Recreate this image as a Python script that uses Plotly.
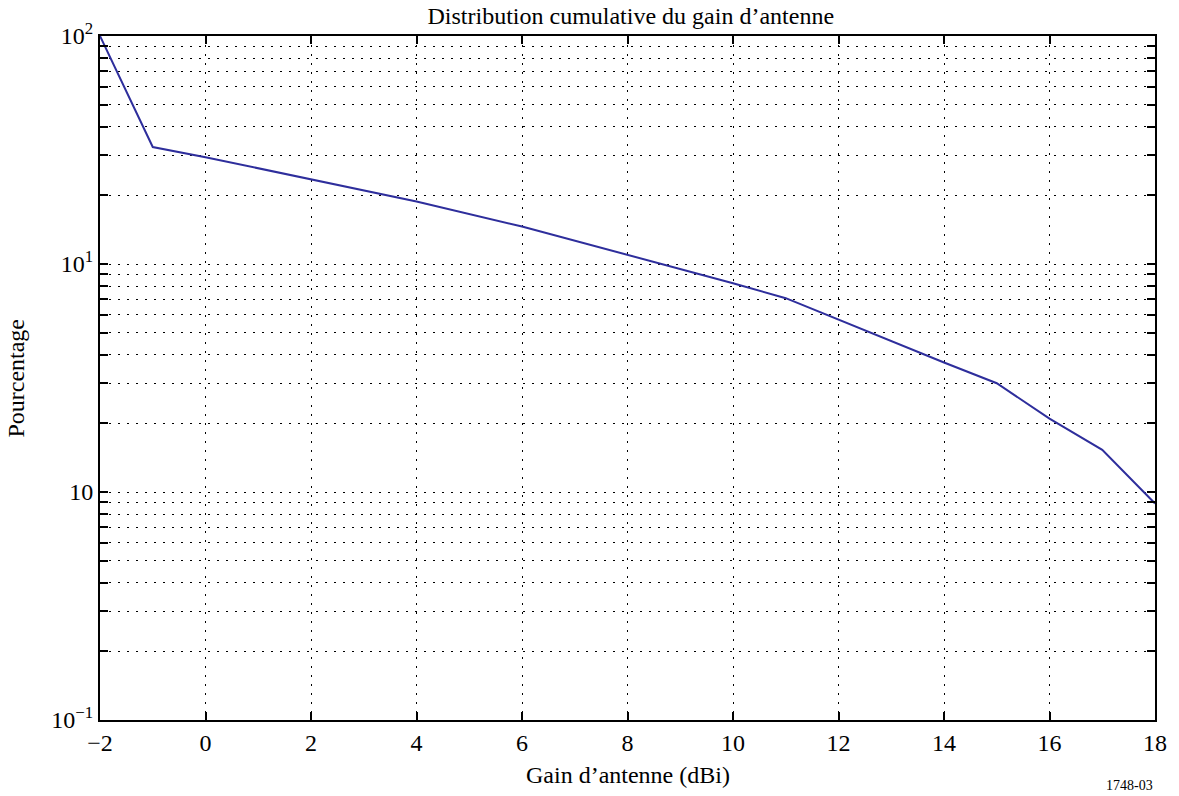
import plotly.graph_objects as go

gain_dbi = [-2, -1, 0, 2, 4, 6, 8, 10, 11, 12, 14, 15, 16, 17, 18]
percentage = [100, 32.6, 29.4, 23.6, 18.8, 14.6, 11.0, 8.24, 7.08, 5.69, 3.7, 3.0, 2.1, 1.53, 0.89]

x_ticks = [-2, 0, 2, 4, 6, 8, 10, 12, 14, 16, 18]
y_tickvals = [0.1, 1, 10, 100]
y_ticktext = ["10<sup>\u22121</sup>", "10", "10<sup>1</sup>", "10<sup>2</sup>"]
y_minor = [m * d for d in (0.1, 1, 10) for m in range(2, 10)]

font_family = "Liberation Serif, Times New Roman, serif"

fig = go.Figure()
fig.add_trace(go.Scatter(
    x=gain_dbi, y=percentage, mode="lines",
    line=dict(color="#2E2E9C", width=2),
    showlegend=False,
))

fig.update_layout(
    width=1179, height=796,
    margin=dict(l=100, r=19, t=36, b=76),
    paper_bgcolor="white", plot_bgcolor="white",
    font=dict(family=font_family, size=24, color="black"),
    title=dict(text="Distribution cumulative du gain d\u2019antenne",
               x=0.535, xanchor="center", y=0.981, yanchor="middle",
               font=dict(size=24, family=font_family, color="black")),
    showlegend=False,
)

fig.update_xaxes(
    range=[-2, 18], tickvals=x_ticks,
    ticks="inside", ticklen=8, tickwidth=1.5, tickcolor="black",
    showline=True, linecolor="black", linewidth=2, mirror="allticks",
    showgrid=True, gridcolor="black", gridwidth=1, griddash="2px,7px",
    zeroline=False,
    tickfont=dict(size=24, family=font_family),
)
fig.update_yaxes(
    type="log", range=[-1, 2],
    tickvals=y_tickvals, ticktext=y_ticktext,
    ticks="inside", ticklen=8, tickwidth=1.5, tickcolor="black",
    showline=True, linecolor="black", linewidth=2, mirror="allticks",
    showgrid=True, gridcolor="black", gridwidth=1, griddash="2px,7px",
    zeroline=False,
    tickfont=dict(size=24, family=font_family),
    minor=dict(tickvals=y_minor, ticks="inside", ticklen=8, tickcolor="black",
               tickwidth=1.5, showgrid=True, gridcolor="black", gridwidth=1,
               griddash="2px,7px"),
)

fig.add_annotation(text="Gain d\u2019antenne (dBi)", xref="paper", yref="paper",
                   x=0.5, y=-0.081, xanchor="center", yanchor="middle",
                   showarrow=False, font=dict(size=24, family=font_family))
fig.add_annotation(text="Pourcentage", xref="paper", yref="paper",
                   x=-0.08, y=0.5, xanchor="center", yanchor="middle", textangle=-90,
                   showarrow=False, font=dict(size=24, family=font_family))
fig.add_annotation(text="1748-03", xref="paper", yref="paper",
                   x=1.0, y=-0.109, xanchor="right", yanchor="bottom",
                   showarrow=False, font=dict(size=14, family=font_family))

fig.write_html("out.html")
